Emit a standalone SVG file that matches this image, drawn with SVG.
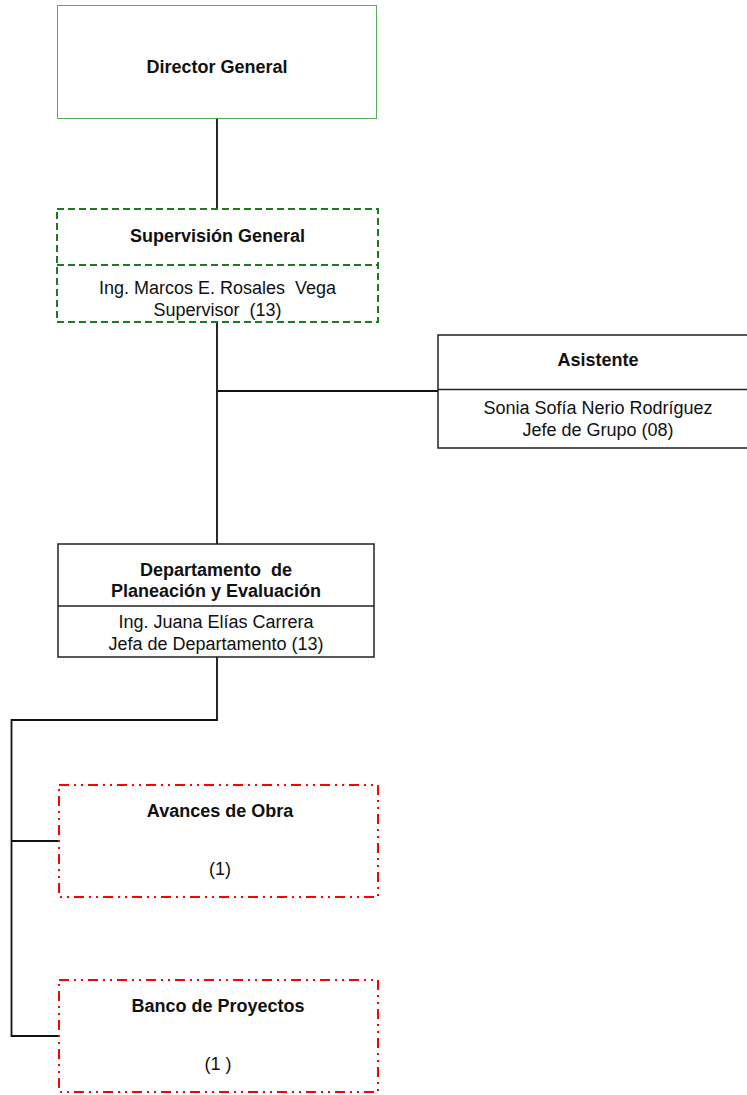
<svg xmlns="http://www.w3.org/2000/svg" width="747" height="1095" viewBox="0 0 747 1095">
<style>
text{font-family:"Liberation Sans",Arial,sans-serif;font-size:18px;fill:#111;text-anchor:middle;white-space:pre}
.b{font-weight:bold}
.box{fill:#fff;stroke:#222;stroke-width:1.5}
.green{fill:#fff;stroke:#5aac5a;stroke-width:1}
.dgreen{fill:#fff;stroke:#1f7a1f;stroke-width:2;stroke-dasharray:7 4}
.red{fill:#fff;stroke:#ff0000;stroke-width:2;stroke-dasharray:10 5 2 5 2 5}
.div{stroke:#222;stroke-width:1.5}
.dgdiv{stroke:#1f7a1f;stroke-width:2;stroke-dasharray:7 4}
.conn{fill:none;stroke:#111;stroke-width:1.8}
</style>
<g id="connectors">
<path class="conn" d="M217 118 V209"/>
<path class="conn" d="M217 322 V544"/>
<path class="conn" d="M217 391 H438"/>
<path class="conn" d="M217 657 V720 H11.5 V1036 H59"/>
<path class="conn" d="M11.5 841 H59"/>
</g>
<g id="director">
<rect class="green" x="57.5" y="5.5" width="319" height="113"/>
<text class="b" x="217" y="73">Director General</text>
</g>
<g id="supervision">
<rect class="dgreen" x="57" y="209" width="321" height="113"/>
<line class="dgdiv" x1="57" y1="265" x2="378" y2="265"/>
<text class="b" x="217.5" y="242">Supervisión General</text>
<text x="217.5" y="294">Ing. Marcos E. Rosales  Vega</text>
<text x="217.5" y="316">Supervisor  (13)</text>
</g>
<g id="asistente">
<rect class="box" x="438" y="335" width="322" height="113"/>
<line class="div" x1="438" y1="389.5" x2="760" y2="389.5"/>
<text class="b" x="598" y="366">Asistente</text>
<text x="598" y="414">Sonia Sofía Nerio Rodríguez</text>
<text x="598" y="436">Jefe de Grupo (08)</text>
</g>
<g id="departamento">
<rect class="box" x="58" y="544" width="316" height="113"/>
<line class="div" x1="58" y1="606" x2="374" y2="606"/>
<text class="b" x="216" y="576">Departamento  de</text>
<text class="b" x="216" y="597">Planeación y Evaluación</text>
<text x="216" y="628">Ing. Juana Elías Carrera</text>
<text x="216" y="650">Jefa de Departamento (13)</text>
</g>
<g id="avances">
<rect class="red" x="59" y="785" width="319" height="112"/>
<text class="b" x="220" y="817">Avances de Obra</text>
<text x="220" y="875">(1)</text>
</g>
<g id="banco">
<rect class="red" x="59" y="980" width="319" height="112"/>
<text class="b" x="218" y="1012">Banco de Proyectos</text>
<text x="218" y="1070">(1 )</text>
</g>
</svg>
